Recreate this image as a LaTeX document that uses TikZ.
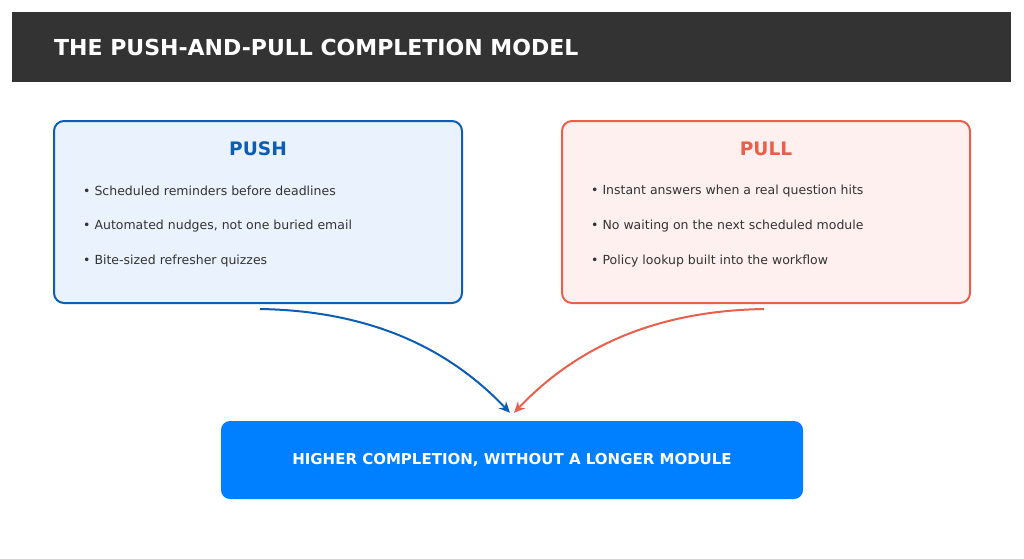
\documentclass[tikz,border=0pt]{standalone}
\usepackage{fontspec}
\setmainfont{DejaVu Sans}
\usetikzlibrary{calc, positioning, arrows.meta}

\definecolor{headgray}{HTML}{333333}
\definecolor{pushblue}{HTML}{0B5DB6}
\definecolor{pushfill}{HTML}{EAF3FD}
\definecolor{pullred}{HTML}{E8604C}
\definecolor{pullfill}{HTML}{FEF0EE}
\definecolor{resultblue}{HTML}{0080FF}
\definecolor{bodytext}{HTML}{333333}

\tikzset{
    panel/.style={rounded corners=10pt, line width=2pt, minimum width=408pt,
        minimum height=182pt, inner sep=0pt},
    paneltitle/.style={font=\fontsize{18.6}{22}\selectfont\bfseries},
    bullet/.style={anchor=west, inner sep=0pt, text=bodytext,
        font=\fontsize{12.5}{15}\selectfont},
    flow/.style={line width=2pt, -{Stealth[length=11pt,width=10pt]}}
}

\begin{document}
\begin{tikzpicture}[x=1pt, y=-1pt]

    \useasboundingbox (0,0) rectangle (1024,558);

    % Header bar
    \node[fill=headgray, minimum width=999pt, minimum height=70pt, inner sep=0pt]
        (header) at (511.5,47) {};
    \node[anchor=west, inner sep=0pt, text=white, font=\fontsize{22}{26}\selectfont\bfseries]
        (title) at (54,47) {THE PUSH-AND-PULL COMPLETION MODEL};

    % Push panel
    \node[panel, draw=pushblue, fill=pushfill] (push) at (258,212) {};
    \node[paneltitle, text=pushblue] (pushtitle) at (258,149) {PUSH};
    \node[bullet] (push1) at (83,191) {• Scheduled reminders before deadlines};
    \node[bullet] (push2) at (83,226) {• Automated nudges, not one buried email};
    \node[bullet] (push3) at (83,261) {• Bite-sized refresher quizzes};

    % Pull panel
    \node[panel, draw=pullred, fill=pullfill] (pull) at (766,212) {};
    \node[paneltitle, text=pullred] (pulltitle) at (766,149) {PULL};
    \node[bullet] (pull1) at (591,191) {• Instant answers when a real question hits};
    \node[bullet] (pull2) at (591,226) {• No waiting on the next scheduled module};
    \node[bullet] (pull3) at (591,261) {• Policy lookup built into the workflow};

    % Result
    \node[fill=resultblue, rounded corners=9pt, minimum width=582pt,
        minimum height=78pt, inner sep=0pt, text=white,
        font=\fontsize{15}{18}\selectfont\bfseries]
        (result) at (512,460) {HIGHER COMPLETION, WITHOUT A LONGER MODULE};

    % Arrows into the result
    \coordinate (pushout) at ($(push.south)+(2,5)$);
    \coordinate (pullout) at ($(pull.south)+(-2,5)$);
    \coordinate (pushin) at ($(result.north)+(-2,-8)$);
    \coordinate (pullin) at ($(result.north)+(2,-8)$);
    \draw[flow, pushblue] (pushout) .. controls (380,311) and (455,355) .. (pushin);
    \draw[flow, pullred] (pullout) .. controls (644,311) and (569,355) .. (pullin);

\end{tikzpicture}
\end{document}
